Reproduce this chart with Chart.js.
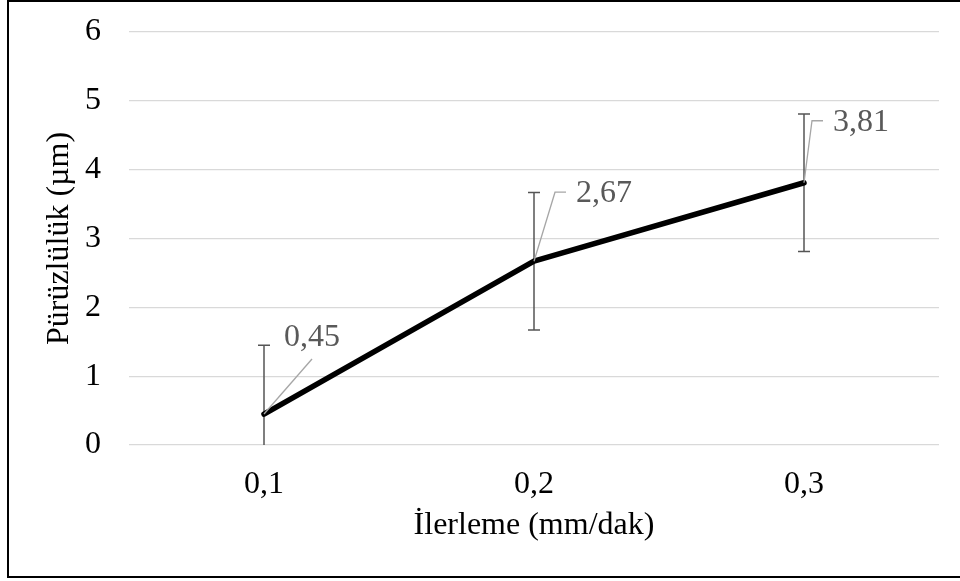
<!DOCTYPE html>
<html>
<head>
<meta charset="utf-8">
<script src="https://cdn.jsdelivr.net/npm/chart.js@4/dist/chart.umd.min.js"></script>
<style>
  html, body { margin: 0; padding: 0; background: #fff; }
  #wrap { position: relative; width: 960px; height: 581px; }
</style>
</head>
<body>
<div id="wrap"><canvas id="chart"></canvas></div>
<script>
// data
const feedLabels = ["0,1", "0,2", "0,3"];
const roughness  = [0.45, 2.67, 3.81];
const errorPlus  = [1, 1, 1];
const errorMinus = [1, 1, 1];
const valueText  = ["0,45", "2,67", "3,81"];

const FONT = "'Liberation Serif', 'Times New Roman', serif";

// outer frame like the Excel chart border
const framePlugin = {
  id: "frame",
  beforeDraw(chart) {
    const c = chart.ctx;
    c.save();
    c.fillStyle = "#fff";
    c.fillRect(0, 0, chart.width, chart.height);
    c.strokeStyle = "#000";
    c.lineWidth = 2;
    c.beginPath();
    c.moveTo(975, 1);
    c.lineTo(8, 1);
    c.lineTo(8, 577);
    c.lineTo(975, 577);
    c.stroke();
    c.restore();
  }
};

// error bars, drawn under the line
const errorBarPlugin = {
  id: "errorBars",
  beforeDatasetsDraw(chart) {
    const c = chart.ctx, x = chart.scales.x, y = chart.scales.y, a = chart.chartArea;
    c.save();
    c.beginPath();
    c.rect(a.left, a.top - 2, a.right - a.left, a.bottom - a.top + 2);
    c.clip();
    c.strokeStyle = "#555";
    c.lineWidth = 1.5;
    roughness.forEach((v, i) => {
      const px = x.getPixelForValue(i);
      const top = y.getPixelForValue(v + errorPlus[i]);
      const bot = y.getPixelForValue(v - errorMinus[i]);
      c.beginPath();
      c.moveTo(px, top); c.lineTo(px, bot);
      c.moveTo(px - 6, top); c.lineTo(px + 6, top);
      c.moveTo(px - 6, bot); c.lineTo(px + 6, bot);
      c.stroke();
    });
    c.restore();
  }
};

// data labels with leader lines
const leaderOffsets = [
  { type: "diag", dx: 48, dy: -55, tx: 20, ty: -76 },
  { type: "elbow", dx: 21, dy: -69, tx: 42, ty: -68 },
  { type: "elbow", dx: 8, dy: -62, tx: 29, ty: -60 }
];
const labelPlugin = {
  id: "valueLabels",
  afterDatasetsDraw(chart) {
    const c = chart.ctx, x = chart.scales.x, y = chart.scales.y;
    c.save();
    c.font = "32px " + FONT;
    c.textBaseline = "middle";
    c.textAlign = "left";
    roughness.forEach((v, i) => {
      const px = x.getPixelForValue(i);
      const py = y.getPixelForValue(v);
      const o = leaderOffsets[i];
      c.strokeStyle = "#a6a6a6";
      c.lineWidth = 1.3;
      c.beginPath();
      c.moveTo(px, py);
      c.lineTo(px + o.dx, py + o.dy);
      if (o.type === "elbow") c.lineTo(px + o.dx + 11, py + o.dy);
      c.stroke();
      c.fillStyle = "#595959";
      c.fillText(valueText[i], px + o.tx, py + o.ty);
    });
    c.restore();
  }
};

new Chart(document.getElementById("chart"), {
  type: "line",
  data: {
    labels: feedLabels,
    datasets: [{
      data: roughness,
      borderColor: "#000",
      backgroundColor: "#000",
      borderWidth: 5.5,
      borderCapStyle: "round",
      borderJoinStyle: "round",
      pointRadius: 0,
      pointHoverRadius: 0,
      tension: 0,
      clip: false
    }]
  },
  options: {
    responsive: true,
    maintainAspectRatio: false,
    animation: false,
    events: [],
    layout: { padding: { top: 32, right: 21, bottom: 0, left: 0 } },
    plugins: {
      legend: { display: false },
      tooltip: { enabled: false }
    },
    scales: {
      x: {
        offset: true,
        grid: { display: false, drawTicks: false },
        border: { display: false },
        ticks: { color: "#000", font: { family: FONT, size: 32 }, padding: 20 },
        title: {
          display: true, text: "İlerleme (mm/dak)", color: "#000",
          font: { family: FONT, size: 32 }, padding: { top: 0, bottom: 36 }
        },
        afterFit(s) { s.height = 136; }
      },
      y: {
        min: 0, max: 6,
        grid: { color: "#d9d9d9", lineWidth: 1.3, drawTicks: false },
        border: { display: false },
        ticks: { stepSize: 1, color: "#000", font: { family: FONT, size: 32 }, padding: 28 },
        title: {
          display: true, text: "Pürüzlülük (µm)", color: "#000",
          font: { family: FONT, size: 32 }, padding: { top: 40, bottom: 0 }
        },
        afterFit(s) { s.width = 129; s.paddingTop = 0; s.paddingBottom = 0; }
      }
    }
  },
  plugins: [framePlugin, errorBarPlugin, labelPlugin]
});
</script>
</body>
</html>
